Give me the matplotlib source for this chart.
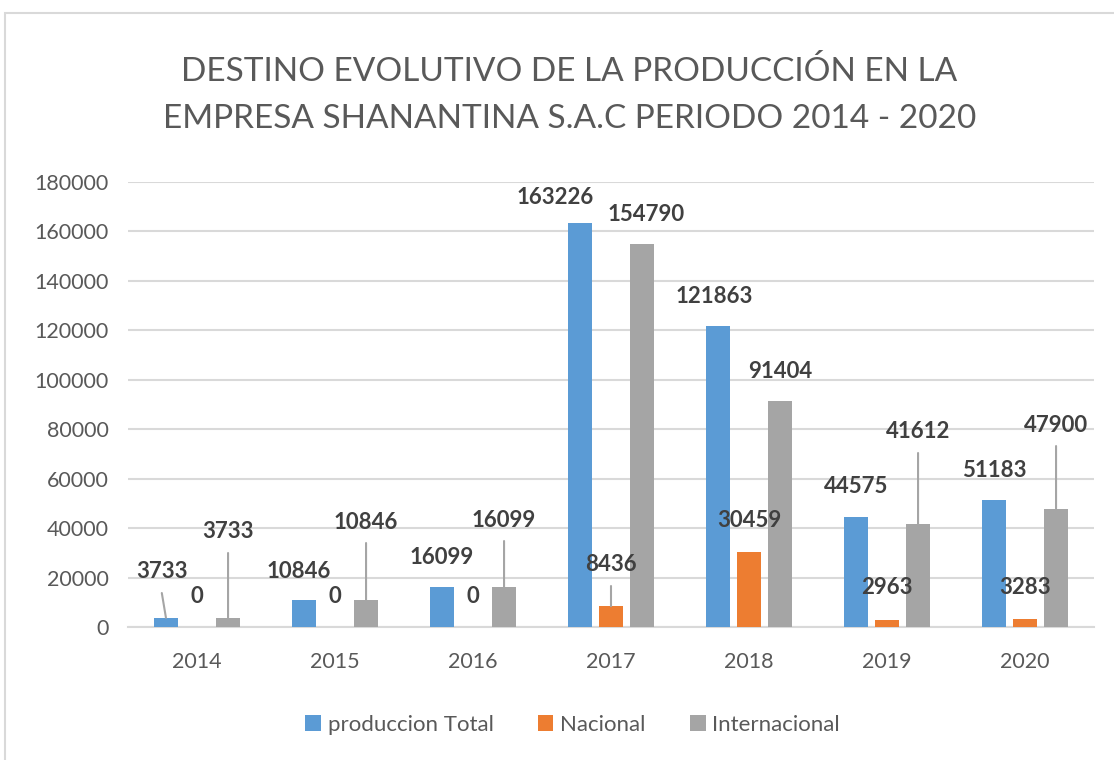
import matplotlib
matplotlib.use("Agg")
import matplotlib.pyplot as plt
import numpy as np
from matplotlib.patches import Rectangle

plt.rcParams['font.family'] = ['Lato', 'DejaVu Sans']

# data
years = ['2014', '2015', '2016', '2017', '2018', '2019', '2020']
produccion_total = [3733, 10846, 16099, 163226, 121863, 44575, 51183]
nacional = [0, 0, 0, 8436, 30459, 2963, 3283]
internacional = [3733, 10846, 16099, 154790, 91404, 41612, 47900]
series_names = ['produccion Total', 'Nacional', 'Internacional']

# where the data labels sit (x offset in category units, y centre in data units)
label_dx = [
    [-0.03, -0.035, 0.0, -0.18, -0.03, 0.0, 0.0],
    [0.0, 0.0, 0.0, 0.0, 0.0, 0.0, 0.0],
    [0.0, 0.0, 0.0, 0.03, 0.0, 0.0, 0.0],
]
label_y = [
    [22250, 22250, 28300, 173900, 133500, 56630, 63500],
    [12140, 12140, 12140, 25080, 43280, 15780, 15780],
    [38430, 42470, 43280, 167000, 103150, 78880, 81700],
]
# which labels get a leader line
leader = [
    [True, False, False, False, False, False, False],
    [False, False, False, True, False, False, False],
    [True, True, True, False, False, True, True],
]

colors = ['#5B9BD5', '#ED7D31', '#A5A5A5']
text_col = '#595959'
label_col = '#404040'

fig = plt.figure(figsize=(11.14, 7.6), dpi=100)
fig.patches.append(Rectangle((5 / 1114, -0.1), 1.2, 1 - 13 / 760 + 0.1,
                             transform=fig.transFigure, fill=False,
                             edgecolor='#d9d9d9', linewidth=1.5))

ax = fig.add_axes([128 / 1114, 1 - 627 / 760, (1094 - 128) / 1114, (627 - 182) / 760])

x = np.arange(len(years))
width = 0.174
step = 0.225
all_series = [produccion_total, nacional, internacional]
bars = []
for i, vals in enumerate(all_series):
    b = ax.bar(x + (i - 1) * step, vals, width, color=colors[i], label=series_names[i], zorder=3)
    bars.append(b)

for i, vals in enumerate(all_series):
    for j, v in enumerate(vals):
        bx = x[j] + (i - 1) * step
        tx = bx + label_dx[i][j]
        ty = label_y[i][j]
        ax.text(tx, ty, str(v), ha='center', va='center', fontsize=16,
                fontweight='bold', color=label_col, zorder=5)
        if leader[i][j]:
            ax.annotate('', xy=(bx, v), xytext=(tx, ty - 8500),
                        arrowprops=dict(arrowstyle='-', color='#a5a5a5', lw=1.5,
                                        shrinkA=0, shrinkB=0), zorder=4)

ax.set_xlim(-0.5, len(years) - 0.5)
ax.set_ylim(0, 180000)
ax.set_yticks(np.arange(0, 180001, 20000))
ax.set_xticks(x)
ax.set_xticklabels(years)
ax.tick_params(axis='both', length=0, labelsize=15.5, colors=text_col)
ax.tick_params(axis='x', pad=18)
ax.tick_params(axis='y', pad=14)
ax.yaxis.grid(True, color='#d9d9d9', linewidth=1.5, zorder=0)
for s in ['top', 'right', 'left']:
    ax.spines[s].set_visible(False)
ax.spines['bottom'].set_color('#d9d9d9')
ax.spines['bottom'].set_linewidth(1.5)
ax.set_axisbelow(True)

fig.text(0.511, 1 - 95 / 760, 'DESTINO EVOLUTIVO DE LA PRODUCCIÓN EN LA\nEMPRESA SHANANTINA S.A.C PERIODO 2014 - 2020',
         ha='center', va='center', fontsize=24, color=text_col, linespacing=1.7)

leg = fig.legend(handles=bars, labels=series_names, loc='center', bbox_to_anchor=(0.514, 1 - 725 / 760),
                 ncol=3, frameon=False, fontsize=16, handlelength=0.7, handleheight=0.7,
                 handletextpad=0.3, columnspacing=2.0)
for t in leg.get_texts():
    t.set_color(text_col)

fig.savefig('out.png', dpi=100)
